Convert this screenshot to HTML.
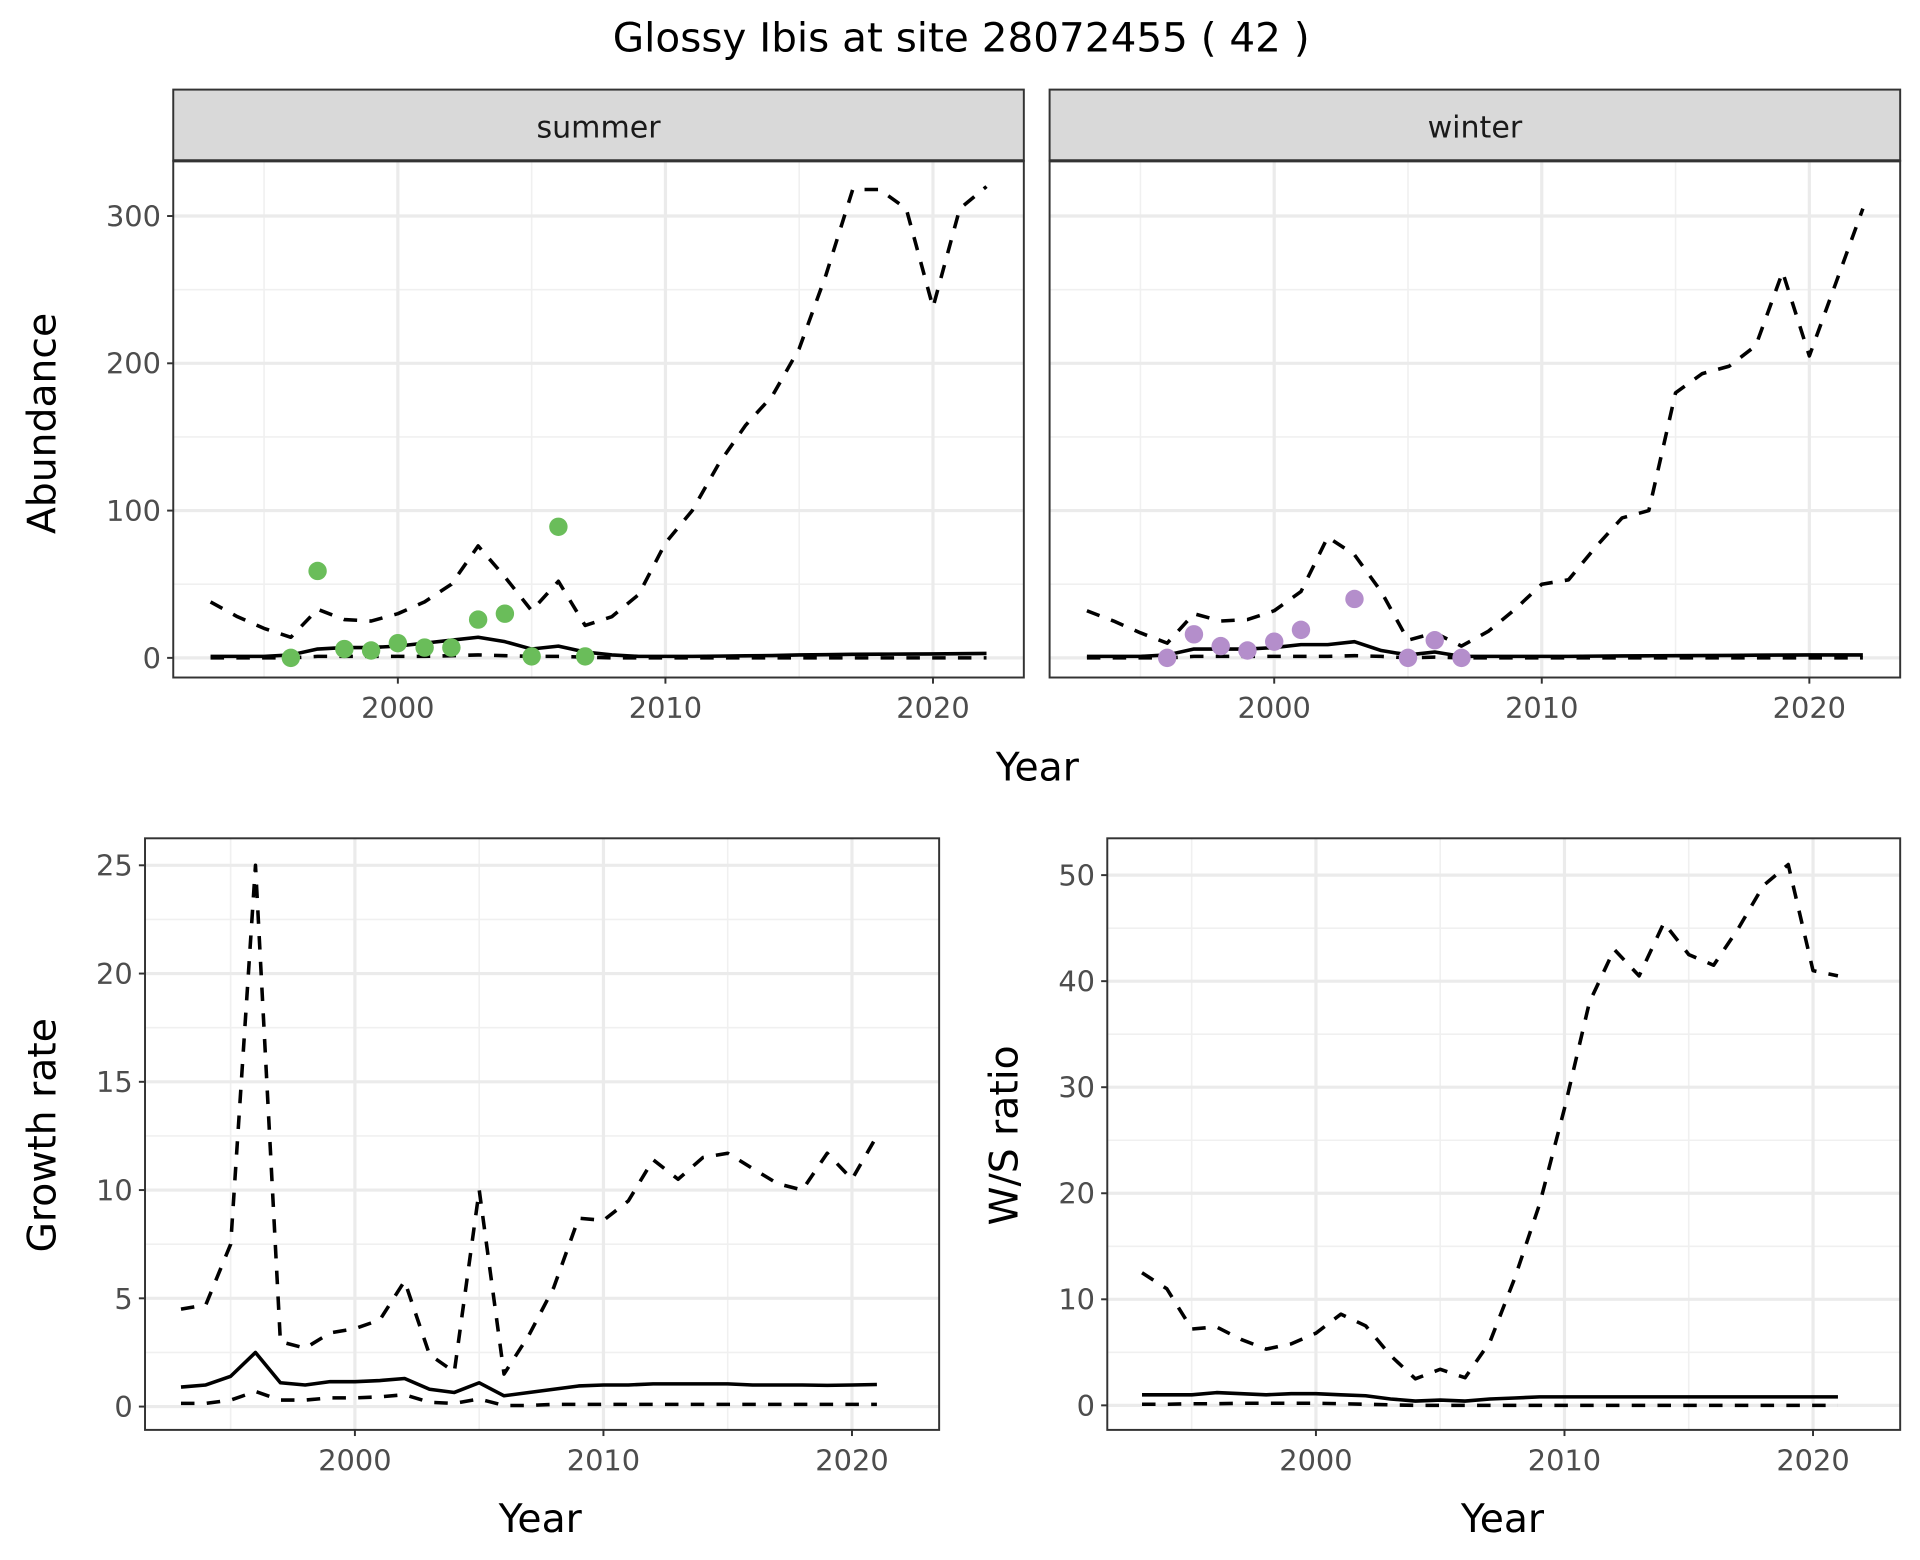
<!DOCTYPE html>
<html><head><meta charset="utf-8"><style>
html,body{margin:0;padding:0;background:#fff}
svg{display:block;font-family:"DejaVu Sans","Liberation Sans",sans-serif}
</style></head><body>
<svg id="c" width="1920" height="1560" viewBox="0 0 1564 1271" xmlns="http://www.w3.org/2000/svg">
<text x="783" y="42" font-size="33" text-anchor="middle" fill="#000">Glossy Ibis at site 28072455 ( 42 )</text>
</svg>
<script>
const yearsA = [];
for (let y = 1993; y <= 2022; y++) yearsA.push(y);
const summerUpper = [38,28,20,14,33,26,25,30,38,50,76,55,32,52,22,28,43,78,100,132,158,178,210,260,318,318,305,238,305,320];
const summerMean = [1,1,1,2,6,7,7,8,10,12,14,11,6,8,4,2,1,1,1,1.2,1.4,1.6,2,2.2,2.4,2.5,2.6,2.7,2.8,3];
const summerLower = [0,0,0,0,1,1,1,1,1,1.5,2,1.5,1,1,0.5,0,0,0,0,0,0,0,0,0,0,0,0,0,0,0];
const summerPtYears = [1996,1997,1998,1999,2000,2001,2002,2003,2004,2005,2006,2007];
const summerPtVals = [0,59,6,5,10,7,7,26,30,1,89,1];
const winterUpper = [32,25,17,10,30,25,26,32,45,82,70,45,12,17,8,18,33,50,53,75,95,100,180,193,198,212,262,205,255,305];
const winterMean = [1,1,1,2,6,6,6,7,9,9,11,5,2,4,1,1,1,1,1,1.2,1.3,1.4,1.5,1.6,1.7,1.8,1.9,2,2,2];
const winterLower = [0,0,0,0,1,1,1,1,1,1,1.5,1,0,0.5,0,0,0,0,0,0,0,0,0,0,0,0,0,0,0,0];
const winterPtYears = [1996,1997,1998,1999,2000,2001,2003,2005,2006,2007];
const winterPtVals = [0,16,8,5,11,19,40,0,12,0];
const yearsB = [];
for (let y = 1993; y <= 2021; y++) yearsB.push(y);
const growthUpper = [4.5,4.7,7.5,25,3,2.7,3.4,3.6,4,5.8,2.4,1.6,10,1.5,3.3,5.5,8.7,8.6,9.5,11.4,10.5,11.5,11.7,11,10.3,10,11.7,10.5,12.5];
const growthMean = [0.9,1,1.4,2.5,1.1,1,1.15,1.15,1.2,1.3,0.8,0.65,1.1,0.5,0.65,0.8,0.95,1,1,1.05,1.05,1.05,1.05,1,1,1,0.98,1,1.02];
const growthLower = [0.15,0.15,0.3,0.7,0.3,0.3,0.4,0.4,0.45,0.55,0.2,0.15,0.35,0.05,0.05,0.1,0.1,0.1,0.1,0.1,0.1,0.1,0.1,0.1,0.1,0.1,0.1,0.1,0.1];
const ratioUpper = [12.5,11,7.2,7.4,6.2,5.3,5.8,6.8,8.6,7.5,4.7,2.5,3.4,2.6,6,12,19,28,38,43,40.5,45.5,42.5,41.5,45,49,51,41,40.5];
const ratioMean = [1,1,1,1.2,1.1,1,1.1,1.1,1,0.9,0.6,0.4,0.5,0.4,0.6,0.7,0.8,0.8,0.8,0.8,0.8,0.8,0.8,0.8,0.8,0.8,0.8,0.8,0.8];
const ratioLower = [0.1,0.1,0.15,0.15,0.2,0.2,0.2,0.2,0.15,0.1,0.05,0,0,0,0,0,0,0,0,0,0,0,0,0,0,0,0,0,0];
const abTicks = [0,100,200,300];
const grTicks = [0,5,10,15,20,25];
const raTicks = [0,10,20,30,40,50];
const xTicks = [2000,2010,2020];

const NS = "http://www.w3.org/2000/svg";
const svg = document.getElementById('c');
function el(tag, attrs, parent) {
  const e = document.createElementNS(NS, tag);
  for (const k in attrs) e.setAttribute(k, attrs[k]);
  (parent || svg).appendChild(e);
  return e;
}
function lin(d0, d1, r0, r1) { return v => r0 + (v - d0) * (r1 - r0) / (d1 - d0); }

function panel(p) {
  const g = el('g', {});
  
  
  el('rect', {x:p.x0, y:p.y0, width:p.x1-p.x0, height:p.y1-p.y0, fill:'#fff'}, g);
  for (let i = 0; i < p.yt.length - 1; i++) {
    const m = (p.yt[i] + p.yt[i+1]) / 2;
    el('line', {x1:p.x0, x2:p.x1, y1:p.sy(m), y2:p.sy(m), stroke:'#f0f0f0', 'stroke-width':1.3}, g);
  }
  const lastM = p.yt[p.yt.length-1] + (p.yt[1]-p.yt[0]) / 2;
  if (p.sy(lastM) > p.y0) el('line', {x1:p.x0, x2:p.x1, y1:p.sy(lastM), y2:p.sy(lastM), stroke:'#f0f0f0', 'stroke-width':1.3}, g);
  [1995,2005,2015].forEach(m => el('line', {x1:p.sx(m), x2:p.sx(m), y1:p.y0, y2:p.y1, stroke:'#f0f0f0', 'stroke-width':1.3}, g));
  p.yt.forEach(t => el('line', {x1:p.x0, x2:p.x1, y1:p.sy(t), y2:p.sy(t), stroke:'#ebebeb', 'stroke-width':2.6}, g));
  xTicks.forEach(t => el('line', {x1:p.sx(t), x2:p.sx(t), y1:p.y0, y2:p.y1, stroke:'#ebebeb', 'stroke-width':2.6}, g));
  const mk = (ys, vals, dash, nm) => {
    const d = ys.map((y, i) => (i ? 'L' : 'M') + p.sx(y).toFixed(1) + ',' + p.sy(vals[i]).toFixed(1)).join(' ');
    const path = el('path', {d:d, fill:'none', stroke:'#000', 'stroke-width':2.9, 'stroke-dasharray':dash ? '11 10' : 'none', 'stroke-linejoin':'round'}, g);
    
    
  };
  mk(p.years, p.upper, true, 'upper-ci-line');
  mk(p.years, p.mean, false, 'mean-line');
  mk(p.years, p.lower, true, 'lower-ci-line');
  if (p.ptY) p.ptY.forEach((y, i) => {
    const c = el('circle', {cx:p.sx(y), cy:p.sy(p.ptV[i]), r:7.5, fill:p.ptC}, g);
    
    
  });
  el('rect', {x:p.x0, y:p.y0, width:p.x1-p.x0, height:p.y1-p.y0, fill:'none', stroke:'#333', 'stroke-width':1.6}, g);
  if (p.yLabels) p.yt.forEach(t => {
    el('line', {x1:p.x0-5, x2:p.x0, y1:p.sy(t), y2:p.sy(t), stroke:'#333', 'stroke-width':1.6}, g);
    const tx = el('text', {x:p.x0-10, y:p.sy(t)+8.5, 'font-size':23.5, 'text-anchor':'end', fill:'#4d4d4d'}, g);
    tx.textContent = t;
    
    
  });
  xTicks.forEach(t => {
    el('line', {x1:p.sx(t), x2:p.sx(t), y1:p.y1, y2:p.y1+5, stroke:'#333', 'stroke-width':1.6}, g);
    const tx = el('text', {x:p.sx(t), y:p.y1+33, 'font-size':23.5, 'text-anchor':'middle', fill:'#4d4d4d'}, g);
    tx.textContent = t;
    
    
  });
  if (p.strip) {
    el('rect', {x:p.x0, y:73, width:p.x1-p.x0, height:p.y0-73, fill:'#d9d9d9', stroke:'#333', 'stroke-width':1.6}, g);
    el('line', {x1:p.x0, x2:p.x1, y1:p.y0, y2:p.y0, stroke:'#333', 'stroke-width':2.5}, g);
    const st = el('text', {x:(p.x0+p.x1)/2, y:112, 'font-size':24.5, 'text-anchor':'middle', fill:'#1a1a1a'}, g);
    st.textContent = p.strip;
    
    
  }
}

panel({name:'summer-panel', x0:141, x1:834, y0:131, y1:552, sx:lin(2000,2020,324,760), sy:lin(0,300,536,176), yt:abTicks, yLabels:true,
  years:yearsA, upper:summerUpper, mean:summerMean, lower:summerLower, ptY:summerPtYears, ptV:summerPtVals, ptC:'#6abd5a', strip:'summer'});
panel({name:'winter-panel', x0:855, x1:1548, y0:131, y1:552, sx:lin(2000,2020,1038,1474), sy:lin(0,300,536,176), yt:abTicks, yLabels:false,
  years:yearsA, upper:winterUpper, mean:winterMean, lower:winterLower, ptY:winterPtYears, ptV:winterPtVals, ptC:'#b48ecb', strip:'winter'});
panel({name:'growth-rate-panel', x0:118, x1:765, y0:683, y1:1165, sx:lin(2000,2020,289,694), sy:lin(0,25,1146,705), yt:grTicks, yLabels:true,
  years:yearsB, upper:growthUpper, mean:growthMean, lower:growthLower});
panel({name:'ws-ratio-panel', x0:902, x1:1548, y0:683, y1:1165, sx:lin(2000,2020,1072,1477), sy:lin(0,50,1145,713), yt:raTicks, yLabels:true,
  years:yearsB, upper:ratioUpper, mean:ratioMean, lower:ratioLower});

function title(txt, x, y, rot, nm) {
  const t = el('text', {x:x, y:y, 'font-size':32, 'text-anchor':'middle', fill:'#000', transform: rot ? `rotate(-90 ${x} ${y})` : ''});
  t.textContent = txt;
  
  
}
title('Year', 845, 636, false, 'x-axis-title');
title('Abundance', 45, 345, true, 'y-axis-title');
title('Year', 440, 1248, false, 'x-axis-title');
title('Growth rate', 45, 925, true, 'y-axis-title');
title('Year', 1224, 1248, false, 'x-axis-title');
title('W/S ratio', 829, 925, true, 'y-axis-title');
</script>
</body></html>
